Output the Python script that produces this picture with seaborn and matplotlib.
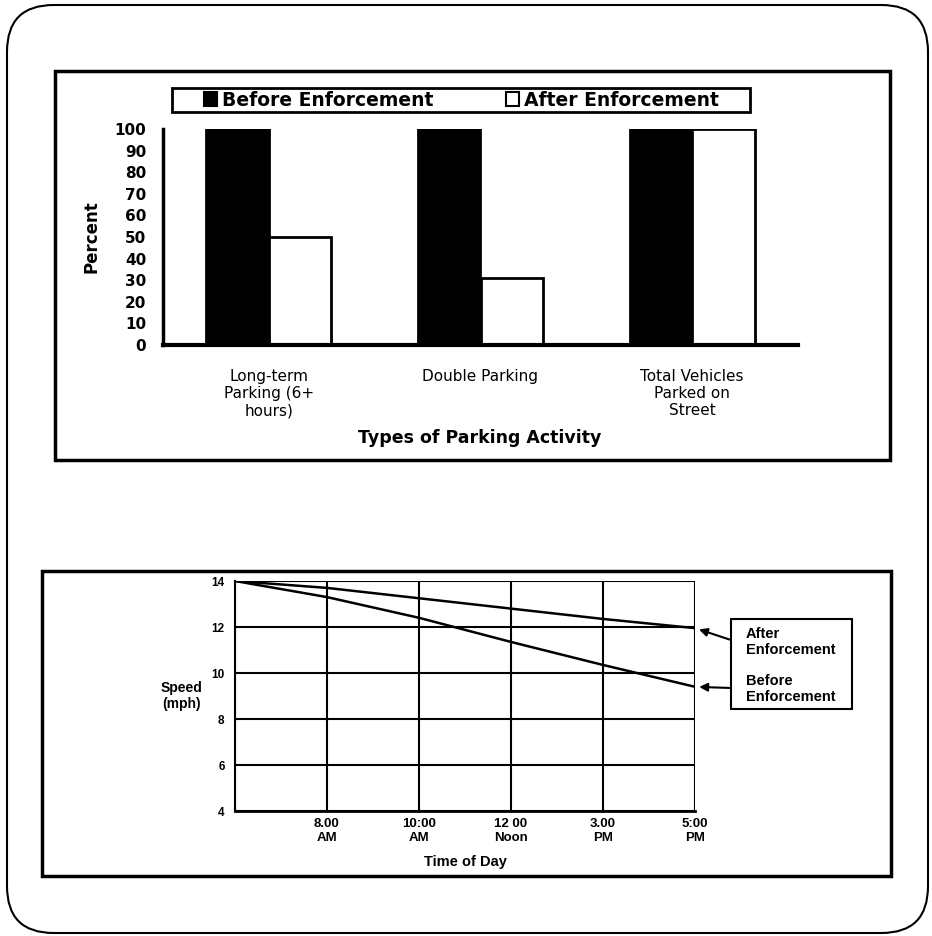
import matplotlib
matplotlib.use("Agg")
import matplotlib.pyplot as plt
from matplotlib.patches import Rectangle, FancyBboxPatch, Patch
import pandas as pd
import seaborn as sns

# Données - graphique en barres (pourcentages)
activities = ["Long-term\nParking (6+\nhours)", "Double Parking", "Total Vehicles\nParked on\nStreet"]
periods = ["Before Enforcement", "After Enforcement"]
before_pct = [100, 100, 100]
after_pct = [50, 31, 100]

# Données - vitesse selon l'heure
time_labels = ["", "8.00\nAM", "10:00\nAM", "12 00\nNoon", "3.00\nPM", "5:00\nPM"]
speed_after = [14, 13.7, 13.25, 12.8, 12.35, 11.95]
speed_before = [14, 13.3, 12.4, 11.35, 10.35, 9.4]
speed_ticks = [4, 6, 8, 10, 12, 14]

sns.set_style("white")
plt.rcParams["font.family"] = ["DejaVu Sans"]
plt.rcParams.update({"text.color": "black", "axes.labelcolor": "black",
                     "xtick.color": "black", "ytick.color": "black",
                     "axes.edgecolor": "black"})

W, H = 932, 936


def fx(px):
    return px / W


def fy(py):
    return 1 - py / H


fig = plt.figure(figsize=(W / 100, H / 100), dpi=100)

# cadre arrondi de la page
fig.add_artist(FancyBboxPatch((fx(7), fy(933)), fx(928) - fx(7), fy(5) - fy(933),
                              boxstyle="round,pad=0,rounding_size=0.05",
                              transform=fig.transFigure, fill=False, ec="black", lw=1.5))
# cadres des deux graphiques
fig.add_artist(Rectangle((fx(55), fy(460)), fx(890) - fx(55), fy(71) - fy(460),
                         transform=fig.transFigure, fill=False, ec="black", lw=2.5))
fig.add_artist(Rectangle((fx(42), fy(876)), fx(891) - fx(42), fy(571) - fy(876),
                         transform=fig.transFigure, fill=False, ec="black", lw=2.5))
# cadre de la légende
fig.add_artist(Rectangle((fx(172), fy(112)), fx(750) - fx(172), fy(88) - fy(112),
                         transform=fig.transFigure, fill=False, ec="black", lw=2))

# ---- graphique en barres ----
ax1 = fig.add_axes([fx(163), fy(345), fx(798) - fx(163), fy(129) - fy(345)])
bar_df = pd.DataFrame({
    "activity": activities * 2,
    "period": [periods[0]] * 3 + [periods[1]] * 3,
    "percent": before_pct + after_pct,
})
sns.barplot(data=bar_df, x="activity", y="percent", hue="period", hue_order=periods,
            palette={periods[0]: "black", periods[1]: "white"}, edgecolor="black",
            linewidth=2, width=0.59, ax=ax1, legend=False)
ax1.set_xlim(-0.5, 2.5)
ax1.set_ylim(0, 100)
ax1.set_yticks(range(0, 101, 10))
ax1.tick_params(axis="y", direction="out", length=5, width=2, pad=7, labelsize=11)
for lab in ax1.get_yticklabels():
    lab.set_fontweight("bold")
ax1.set_xticks(range(3))
ax1.set_xticklabels(activities, fontsize=11, linespacing=1.2)
ax1.tick_params(axis="x", which="major", length=0, pad=17)
ax1.set_xticks([0.5, 1.5], minor=True)
ax1.tick_params(axis="x", which="minor", direction="out", length=5, width=2)
for side in ["top", "right"]:
    ax1.spines[side].set_visible(False)
ax1.spines["left"].set_linewidth(2.5)
ax1.spines["bottom"].set_linewidth(3)
ax1.set_ylabel("Percent", fontsize=12, fontweight="bold")
ax1.yaxis.set_label_coords(-0.099, 0.5)
ax1.set_xlabel("Types of Parking Activity", fontsize=12.5, fontweight="bold")
ax1.xaxis.set_label_coords(0.499, -0.39)

handles = [Patch(facecolor="black", edgecolor="black", lw=1.5),
           Patch(facecolor="white", edgecolor="black", lw=1.5)]
fig.legend(handles, periods, ncol=2, loc="center left",
           bbox_to_anchor=(fx(204), fy(100)), bbox_transform=fig.transFigure,
           borderaxespad=0, borderpad=0, frameon=False,
           handlelength=0.7, handleheight=0.7, handletextpad=0.25, columnspacing=3.9,
           prop={"weight": "bold", "size": 13.5})

# ---- vitesse selon l'heure ----
ax2 = fig.add_axes([fx(235), fy(811), fx(695) - fx(235), fy(581) - fy(811)])
line_df = pd.DataFrame({
    "time": list(range(len(time_labels))) * 2,
    "speed": speed_after + speed_before,
    "series": ["After"] * len(speed_after) + ["Before"] * len(speed_before),
})
sns.lineplot(data=line_df, x="time", y="speed", hue="series",
             palette={"After": "black", "Before": "black"}, lw=1.8, ax=ax2, legend=False)
ax2.set_xlim(0, len(time_labels) - 1)
ax2.set_ylim(speed_ticks[0], speed_ticks[-1])
ax2.set_yticks(speed_ticks)
ax2.set_xticks(range(len(time_labels)))
ax2.set_xticklabels(time_labels, family="Liberation Sans", fontweight="bold",
                    fontsize=9.5, linespacing=1.2)
for lab in ax2.get_yticklabels():
    lab.set_family("Liberation Sans")
    lab.set_fontweight("bold")
    lab.set_fontsize(8.5)
ax2.tick_params(axis="x", length=0, pad=5)
ax2.tick_params(axis="y", direction="inout", length=9, width=1.5, pad=3)
ax2.grid(True, color="black", lw=1.5)
for side in ["top", "right"]:
    ax2.spines[side].set_visible(False)
ax2.spines["left"].set_linewidth(1.5)
ax2.spines["bottom"].set_linewidth(2)
ax2.set_ylabel("Speed\n(mph)", rotation=0, ha="center", va="center",
               family="Liberation Sans", fontweight="bold", fontsize=10)
ax2.yaxis.set_label_coords(-0.117, 0.5)
ax2.set_xlabel("Time of Day", family="Liberation Sans", fontweight="bold", fontsize=10.5)
ax2.xaxis.set_label_coords(0.5, -0.19)

# étiquettes des courbes avec flèches
fig.add_artist(Rectangle((fx(731), fy(709)), fx(852) - fx(731), fy(619) - fy(709),
                         transform=fig.transFigure, fill=False, ec="black", lw=1.5))
arrow = dict(arrowstyle="-|>", color="black", lw=1.5, mutation_scale=12, shrinkA=0, shrinkB=3)
ax2.annotate("", xy=(5, speed_after[-1]), xytext=(fx(731), fy(640)),
             textcoords="figure fraction", arrowprops=arrow)
ax2.annotate("", xy=(5, speed_before[-1]), xytext=(fx(731), fy(688)),
             textcoords="figure fraction", arrowprops=arrow)
fig.text(fx(746), fy(627), "After\nEnforcement", family="Liberation Sans", fontweight="bold",
         fontsize=10.5, va="top", ha="left", linespacing=1.2)
fig.text(fx(746), fy(674), "Before\nEnforcement", family="Liberation Sans", fontweight="bold",
         fontsize=10.5, va="top", ha="left", linespacing=1.2)

fig.savefig("out.png", dpi=100, facecolor="white")
